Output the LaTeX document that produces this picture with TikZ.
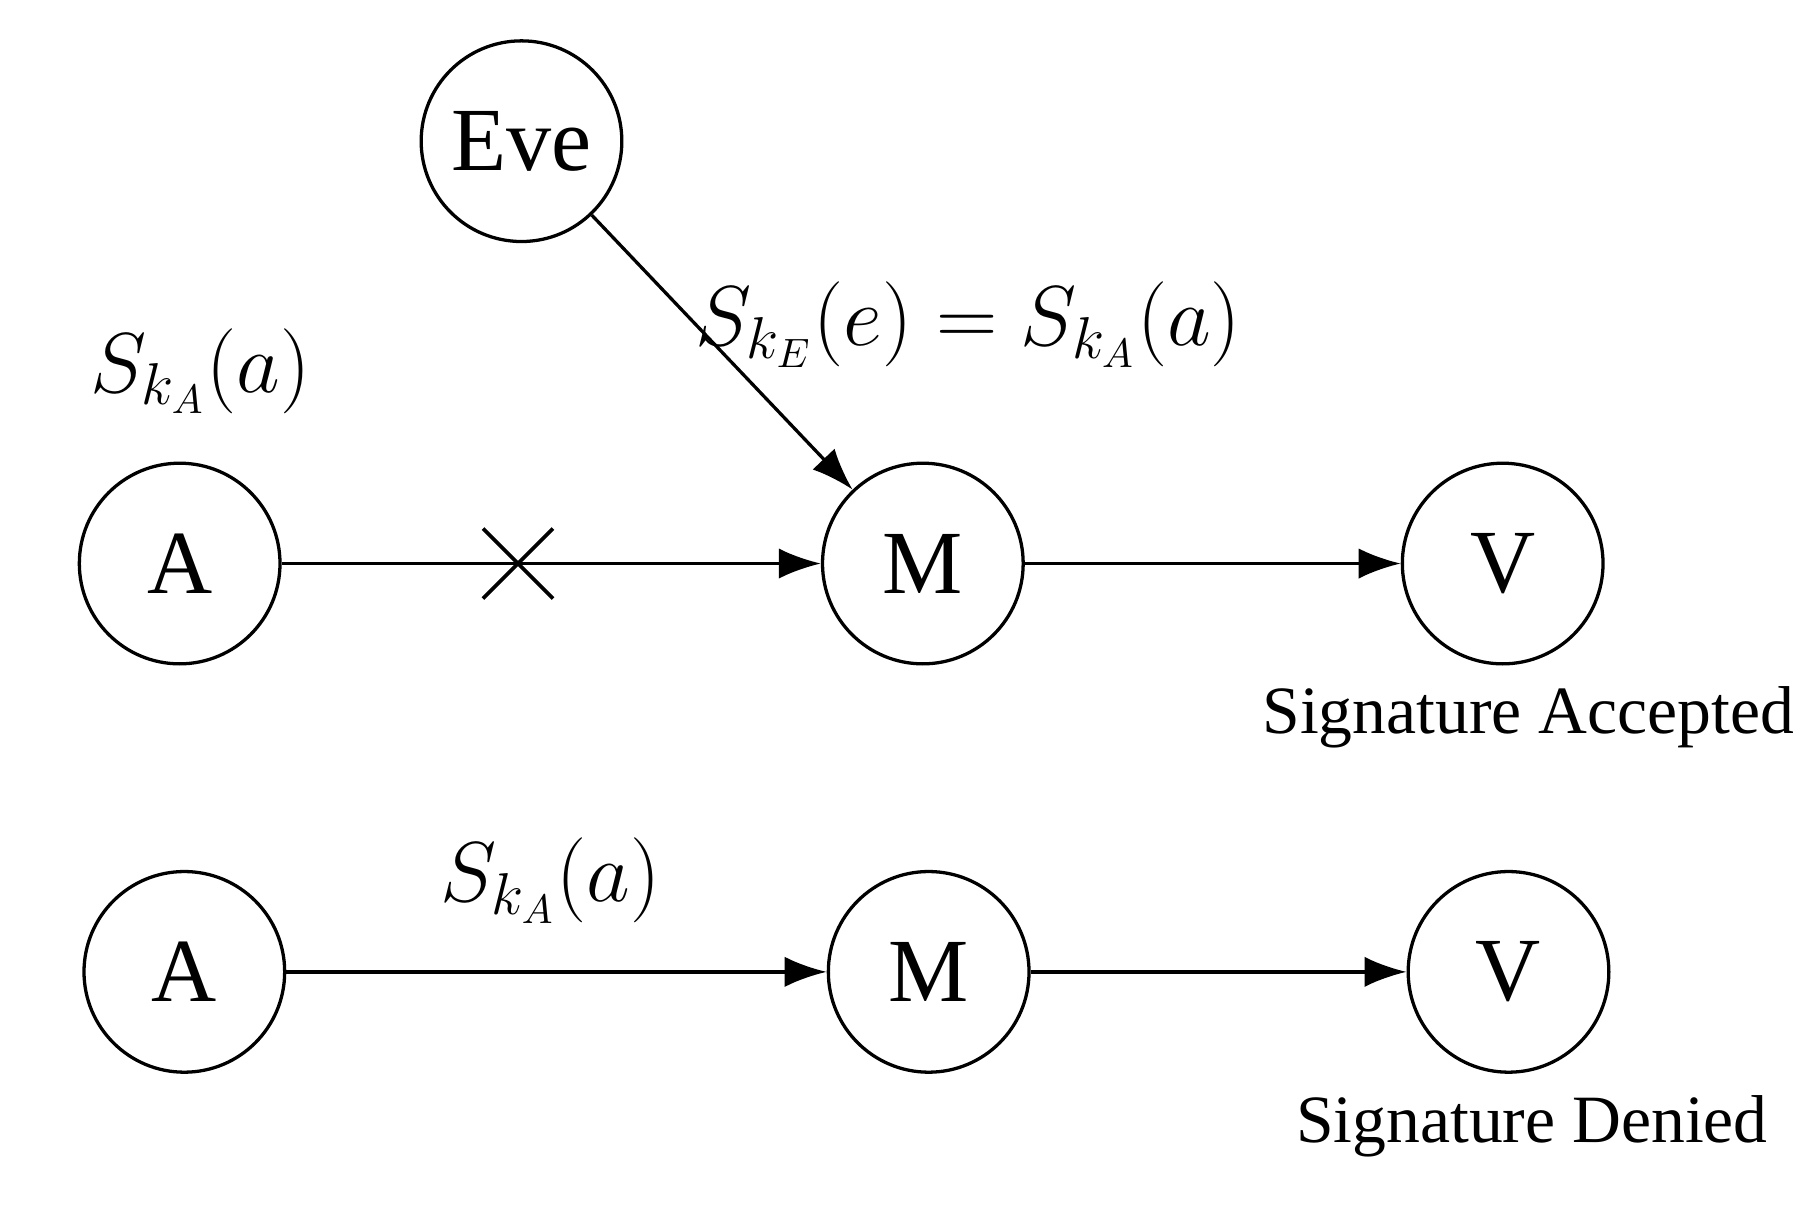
\documentclass[tikz,border=0pt]{standalone}
\usepackage{fontspec}
\setmainfont{Liberation Serif}
\usetikzlibrary{arrows.meta}
\begin{document}
\begin{tikzpicture}[
  st/.style={circle,draw,line width=0.8pt,minimum size=1.72cm,inner sep=0pt,font=\fontsize{22}{26}\selectfont},
  ar/.style={line width=0.8pt,-{Latex[length=0.36cm,width=0.26cm]}},
  lb/.style={font=\fontsize{16.5}{20}\selectfont},
  ml/.style={font=\fontsize{20}{24}\selectfont}]
\useasboundingbox (0,0) rectangle (15.6,-10.355);
\node[st] (eve) at (4.47,-1.21) {Eve};
\node[st] (a1) at (1.54,-4.83) {A};
\node[st] (m1) at (7.91,-4.83) {M};
\node[st] (v1) at (12.88,-4.83) {V};
\node[st] (a2) at (1.58,-8.33) {A};
\node[st] (m2) at (7.96,-8.33) {M};
\node[st] (v2) at (12.93,-8.33) {V};
\draw[ar] (a1) -- (m1);
\draw[ar] (m1) -- (v1);
\draw[ar] (eve) -- (m1);
\draw[ar] (a2) -- (m2);
\draw[ar] (m2) -- (v2);
\coordinate (x) at (4.44,-4.83);
\draw[line width=0.9pt] ([shift={(-0.3,0.3)}]x) -- ([shift={(0.3,-0.3)}]x)
  ([shift={(-0.3,-0.3)}]x) -- ([shift={(0.3,0.3)}]x);
\node[ml] (l1) at (1.72,-3.18) {$S_{k_A}(a)$};
\node[ml] (l2) at (8.3,-2.78) {$S_{k_E}(e)=S_{k_A}(a)$};
\node[ml] (l3) at (4.72,-7.55) {$S_{k_A}(a)$};
\node[lb] (t1) at (13.1,-6.15) {Signature Accepted};
\node[lb] (t2) at (13.13,-9.65) {Signature Denied};
\end{tikzpicture}
\end{document}
